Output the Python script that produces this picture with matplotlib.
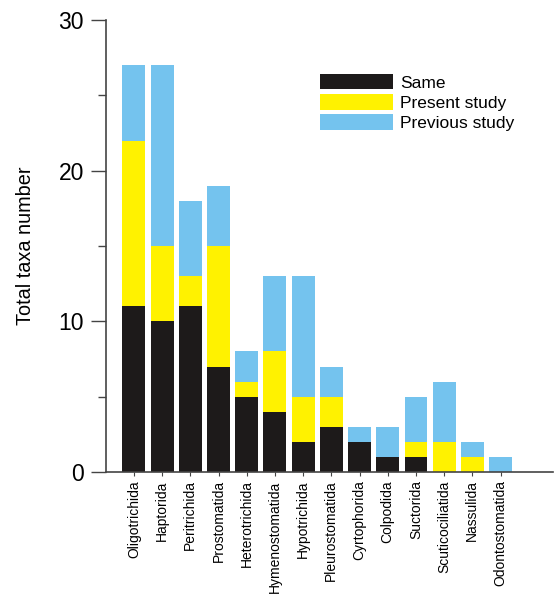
import numpy as np
import matplotlib.pyplot as plt

plt.rcParams['font.family'] = ['Liberation Sans', 'DejaVu Sans']

orders = ['Oligotrichida', 'Haptorida', 'Peritrichida', 'Prostomatida',
          'Heterotrichida', 'Hymenostomatida', 'Hypotrichida', 'Pleurostomatida',
          'Cyrtophorida', 'Colpodida', 'Suctorida', 'Scuticociliatida',
          'Nassulida', 'Odontostomatida']
same = [11, 10, 11, 7, 5, 4, 2, 3, 2, 1, 1, 0, 0, 0]
present = [11, 5, 2, 8, 1, 4, 3, 2, 0, 0, 1, 2, 1, 0]
previous = [5, 12, 5, 4, 2, 5, 8, 2, 1, 2, 3, 4, 1, 1]

c_same = '#1d1a1a'
c_present = '#fff200'
c_previous = '#74c3ee'

fig = plt.figure(figsize=(5.56, 5.95), dpi=100)
ax = fig.add_axes([0.1906, 0.2067, 0.8040, 0.7597])

x = np.arange(len(orders))
w = 0.81
same = np.array(same)
present = np.array(present)
previous = np.array(previous)

ax.bar(x, same, w, color=c_same, label='Same')
ax.bar(x, present, w, bottom=same, color=c_present, label='Present study')
ax.bar(x, previous, w, bottom=same + present, color=c_previous, label='Previous study')

ax.set_xlim(-0.99, 14.86)
ax.set_ylim(0, 30)
ax.set_yticks([0, 10, 20, 30])
ax.set_yticks([5, 15, 25], minor=True)
ax.tick_params(axis='y', which='major', length=11, width=1, labelsize=16.5, color='#444444', pad=5)
ax.tick_params(axis='y', which='minor', length=5.5, width=1, color='#444444')
ax.set_xticks(x)
ax.set_xticklabels(orders, rotation=90, fontsize=10)
ax.tick_params(axis='x', length=3, width=0.8, color='#444444', pad=3)

ax.spines['top'].set_visible(False)
ax.spines['right'].set_visible(False)
ax.spines['left'].set_bounds(0, 30)
for s in ('left', 'bottom'):
    ax.spines[s].set_color('#444444')
    ax.spines[s].set_linewidth(1.2)

ax.set_ylabel('Total taxa number', fontsize=14.3, labelpad=17)

ax.legend(loc='upper left', bbox_to_anchor=(0.46, 0.90), frameon=False,
          fontsize=12.5, handlelength=4.2, handleheight=1.0,
          handletextpad=0.4, labelspacing=0.2, borderpad=0)

fig.savefig('out.png', dpi=100)
